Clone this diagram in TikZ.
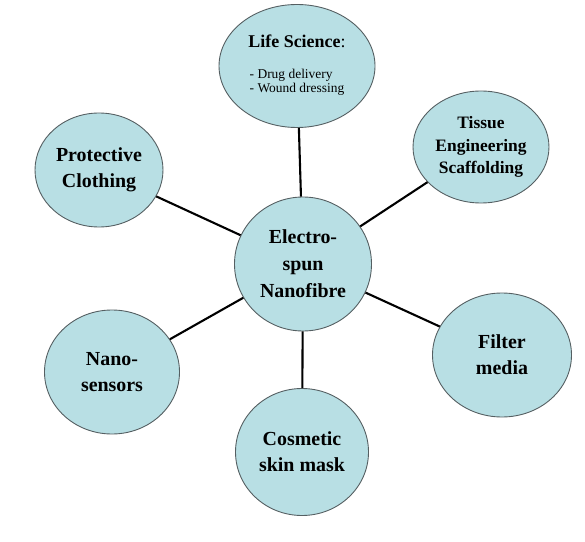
\documentclass[tikz,border=0pt]{standalone}
\usepackage{fontspec}
\setmainfont{Liberation Serif}
\usetikzlibrary{shapes.geometric}

\definecolor{bubblefill}{RGB}{184,223,228}
\definecolor{bubbleline}{RGB}{85,95,98}

\tikzstyle{topic}=[draw=bubbleline,fill=bubblefill,line width=0.9bp,ellipse,inner sep=0pt,align=center,font=\fontsize{20}{26}\selectfont\bfseries]
\tikzstyle{edge} = [draw,line width=2.1bp,-]
\tikzstyle{small} = [font=\fontsize{17.5}{22.5}\selectfont\bfseries]

\begin{document}
\begin{tikzpicture}[x=1bp, y=-1bp]
    \useasboundingbox (0,0) rectangle (585,542);
    % First we draw the hub and the topics
    \node[topic, minimum width=137bp, minimum height=134bp, font=\fontsize{20}{27}\selectfont\bfseries] (hub) at (303,264) {Electro-\\spun\\Nanofibre};
    \node[topic, minimum width=156bp, minimum height=123bp] (life) at (297,66)
        {{\fontsize{18}{20}\selectfont Life Science}{\fontsize{18}{20}\selectfont\mdseries:}\\[13bp]
         {\fontsize{13.5}{15}\selectfont\mdseries\begin{tabular}{@{}l@{}}- Drug delivery\\- Wound dressing\end{tabular}}};
    \node[topic, minimum width=136bp, minimum height=112bp, small] (tissue) at (481,147) {Tissue\\Engineering\\Scaffolding};
    \node[topic, minimum width=139bp, minimum height=124bp] (filter) at (502,355) {Filter\\media};
    \node[topic, minimum width=133bp, minimum height=127bp] (cosmetic) at (302,452) {Cosmetic\\skin mask};
    \node[topic, minimum width=135bp, minimum height=124bp] (nano) at (112,372) {Nano-\\sensors};
    \node[topic, minimum width=128bp, minimum height=114bp] (protect) at (99,170) {Protective\\Clothing};
    % Connect the hub with every topic
    \foreach \dest in {life,tissue,filter,cosmetic,nano,protect}
        \path[edge] (hub) -- (\dest);
\end{tikzpicture}
\end{document}
